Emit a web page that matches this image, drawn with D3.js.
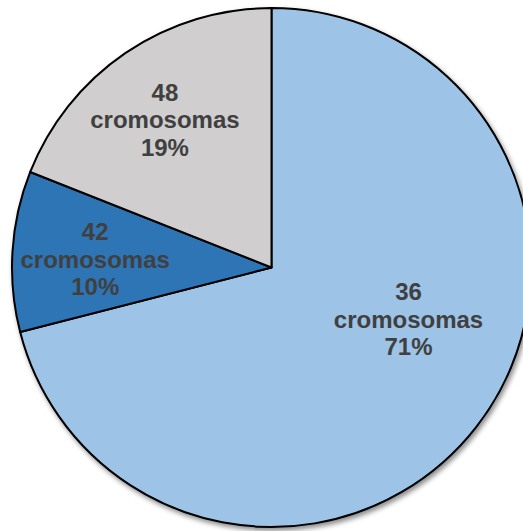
<!DOCTYPE html>
<html>
<head>
<meta charset="utf-8">
<script src="https://cdn.jsdelivr.net/npm/d3@7/dist/d3.min.js"></script>
<style>
  html, body { margin: 0; padding: 0; background: #fff; }
  svg { display: block; }
</style>
</head>
<body>
<svg id="chart" width="523" height="531"></svg>
<script>
// Distribution of chromosome counts
const categories = ["36", "42", "48"];
const counts = [71, 10, 19];          // percent of samples
const unitLabel = "cromosomas";
const colors = ["#9DC3E6", "#2E75B6", "#D0CECE"];

const svg = d3.select("#chart");
const cx = 271.5, cy = 267.5, R = 259.5;

// soft drop shadow under the pie
const defs = svg.append("defs");
const f = defs.append("filter").attr("id", "shadow")
  .attr("x", "-10%").attr("y", "-10%").attr("width", "120%").attr("height", "120%");
f.append("feDropShadow")
  .attr("dx", 2).attr("dy", 3).attr("stdDeviation", 2.5)
  .attr("flood-color", "#000").attr("flood-opacity", 0.45);

const data = categories.map((c, i) => ({ cat: c, value: counts[i], color: colors[i] }));

const pie = d3.pie().sort(null).value(d => d.value);
const arcs = pie(data);
const arc = d3.arc().innerRadius(0).outerRadius(R);

const g = svg.append("g").attr("transform", `translate(${cx},${cy})`);

g.append("g").attr("filter", "url(#shadow)")
  .selectAll("path").data(arcs).join("path")
  .attr("d", arc)
  .attr("fill", d => d.data.color)
  .attr("stroke", "#000")
  .attr("stroke-width", 2)
  .attr("stroke-linejoin", "round");

// label anchor: radius fraction and angular shift (radians) from slice middle
const labelRadius = [0.565, 0.68, 0.70];
const labelShift = [-0.295, -0.02, -0.03];

const labels = g.selectAll("text.lbl").data(arcs).join("text")
  .attr("class", "lbl")
  .attr("text-anchor", "middle")
  .attr("font-family", "'Liberation Sans', Arial, sans-serif")
  .attr("font-weight", "bold")
  .attr("font-size", 24)
  .attr("fill", "#404040")
  .attr("transform", (d, i) => {
    const a = (d.startAngle + d.endAngle) / 2 + labelShift[i];
    const r = R * labelRadius[i];
    return `translate(${r * Math.sin(a)},${-r * Math.cos(a)})`;
  });

labels.each(function(d) {
  const t = d3.select(this);
  const lines = [d.data.cat, unitLabel, d3.format(".0f")(d.data.value) + "%"];
  lines.forEach((s, k) => {
    t.append("tspan").attr("x", 0).attr("y", (k - 1) * 27.5 + 8).text(s);
  });
});
</script>
</body>
</html>
